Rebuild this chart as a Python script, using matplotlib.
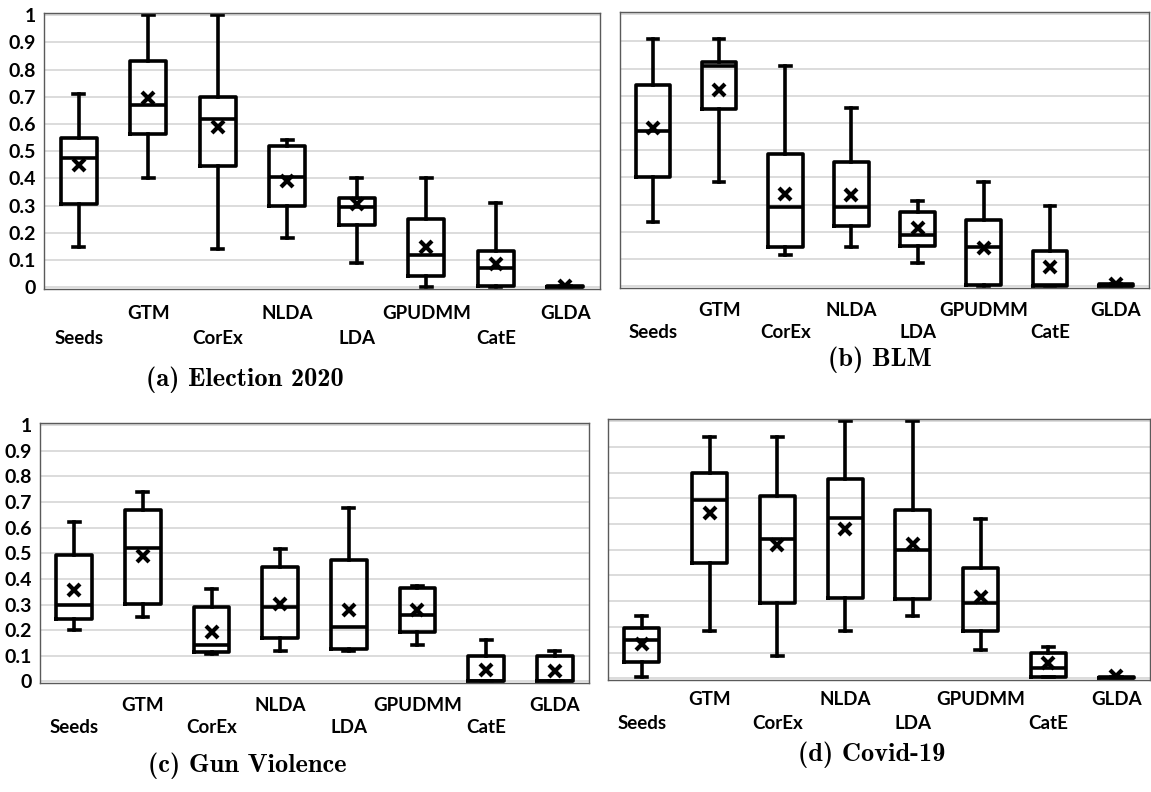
import matplotlib.pyplot as plt
from matplotlib.transforms import blended_transform_factory

methods = ['Seeds', 'GTM', 'CorEx', 'NLDA', 'LDA', 'GPUDMM', 'CatE', 'GLDA']

# per dataset: whisker low, q1, median, q3, whisker high, mean (one entry per method)
election_lo = [0.15, 0.40, 0.14, 0.18, 0.09, 0.00, 0.00, 0.000]
election_q1 = [0.305, 0.565, 0.445, 0.30, 0.23, 0.04, 0.005, 0.000]
election_med = [0.475, 0.67, 0.62, 0.405, 0.295, 0.12, 0.07, 0.002]
election_q3 = [0.55, 0.83, 0.70, 0.52, 0.33, 0.25, 0.135, 0.005]
election_hi = [0.71, 1.00, 1.00, 0.54, 0.40, 0.40, 0.31, 0.005]
election_mean = [0.45, 0.695, 0.59, 0.39, 0.305, 0.15, 0.085, 0.005]

blm_lo = [0.235, 0.385, 0.115, 0.146, 0.085, 0.000, 0.000, 0.000]
blm_q1 = [0.40, 0.65, 0.145, 0.22, 0.15, 0.005, 0.000, 0.000]
blm_med = [0.57, 0.81, 0.29, 0.29, 0.19, 0.145, 0.005, 0.003]
blm_q3 = [0.74, 0.825, 0.485, 0.457, 0.275, 0.245, 0.13, 0.008]
blm_hi = [0.91, 0.91, 0.81, 0.655, 0.315, 0.385, 0.295, 0.008]
blm_mean = [0.58, 0.72, 0.34, 0.335, 0.215, 0.14, 0.07, 0.01]

gun_lo = [0.20, 0.25, 0.108, 0.12, 0.118, 0.143, 0.000, 0.000]
gun_q1 = [0.245, 0.303, 0.115, 0.17, 0.128, 0.194, 0.000, 0.000]
gun_med = [0.297, 0.522, 0.143, 0.29, 0.212, 0.26, 0.003, 0.003]
gun_q3 = [0.495, 0.67, 0.29, 0.447, 0.473, 0.366, 0.10, 0.098]
gun_hi = [0.62, 0.74, 0.362, 0.518, 0.678, 0.372, 0.16, 0.12]
gun_mean = [0.357, 0.49, 0.193, 0.303, 0.28, 0.277, 0.043, 0.04]

covid_lo = [0.005, 0.183, 0.086, 0.183, 0.243, 0.112, 0.005, 0.000]
covid_q1 = [0.064, 0.449, 0.295, 0.314, 0.31, 0.183, 0.005, 0.000]
covid_med = [0.15, 0.695, 0.542, 0.625, 0.499, 0.295, 0.04, 0.003]
covid_q3 = [0.197, 0.797, 0.709, 0.774, 0.655, 0.43, 0.10, 0.006]
covid_hi = [0.243, 0.939, 0.939, 1.00, 1.00, 0.62, 0.123, 0.006]
covid_mean = [0.135, 0.642, 0.52, 0.579, 0.522, 0.317, 0.061, 0.008]

yticks = [0, 0.1, 0.2, 0.3, 0.4, 0.5, 0.6, 0.7, 0.8, 0.9, 1]
ytick_labels = ['0', '0.1', '0.2', '0.3', '0.4', '0.5', '0.6', '0.7', '0.8', '0.9', '1']


def make_stats(lo, q1, med, q3, hi, mean):
    return [dict(whislo=a, q1=b, med=c, q3=d, whishi=e, mean=f, fliers=[])
            for a, b, c, d, e, f in zip(lo, q1, med, q3, hi, mean)]


W, H = 1151, 792
fig = plt.figure(figsize=(W / 100, H / 100), dpi=100)


def box_panel(px, caption, cap_xy, stats, show_y, row_y):
    left, top, right, bottom = px
    ax = fig.add_axes([left / W, 1 - bottom / H, (right - left) / W, (bottom - top) / H])
    pos = list(range(1, len(methods) + 1))
    line = dict(color='black', linewidth=2.6)
    ax.bxp(stats, positions=pos, widths=0.52, showmeans=True, showfliers=False,
           boxprops=line, whiskerprops=line, capprops=line, medianprops=line,
           capwidths=0.16,
           meanprops=dict(marker='x', markersize=9, markeredgewidth=3,
                          markeredgecolor='black', markerfacecolor='black'))
    ax.set_xlim(0.5, len(methods) + 0.5)
    ax.set_ylim(-0.006, 1.008)
    ax.set_yticks(yticks)
    if show_y:
        ax.set_yticklabels(ytick_labels, fontsize=14, fontweight='bold', fontfamily='Lato')
    else:
        ax.set_yticklabels([])
    ax.set_xticks([])
    ax.tick_params(axis='y', length=0, pad=6)
    ax.yaxis.grid(True, color='#d9d9d9', linewidth=1.3)
    ax.set_axisbelow(True)
    for s in ax.spines.values():
        s.set_color('#5a5a5a')
        s.set_linewidth(1.0)

    # staggered method names under the boxes
    tr = blended_transform_factory(ax.transData, ax.transAxes)
    for i, name in enumerate(methods):
        y = row_y[0] if i % 2 == 1 else row_y[1]
        ax.text(pos[i], y, name, transform=tr, ha='center', va='center',
                fontsize=13.5, fontweight='bold', fontfamily='Lato')

    fig.text(cap_xy[0] / W, 1 - cap_xy[1] / H, caption, ha='center', va='center',
             fontsize=19, fontfamily='cmb10')
    return ax


box_panel((44, 13, 600, 289), '(a) Election 2020', (245, 380),
          make_stats(election_lo, election_q1, election_med, election_q3, election_hi, election_mean),
          True, (-0.087, -0.178))
box_panel((620, 12, 1149, 288), '(b) BLM', (880, 360),
          make_stats(blm_lo, blm_q1, blm_med, blm_q3, blm_hi, blm_mean),
          False, (-0.080, -0.160))
box_panel((40, 423, 589, 683), '(c) Gun Violence', (247, 766),
          make_stats(gun_lo, gun_q1, gun_med, gun_q3, gun_hi, gun_mean),
          True, (-0.085, -0.173))
box_panel((608, 419, 1150, 680), '(d) Covid-19', (872, 755),
          make_stats(covid_lo, covid_q1, covid_med, covid_q3, covid_hi, covid_mean),
          False, (-0.073, -0.165))

plt.savefig('out.png', dpi=100)
